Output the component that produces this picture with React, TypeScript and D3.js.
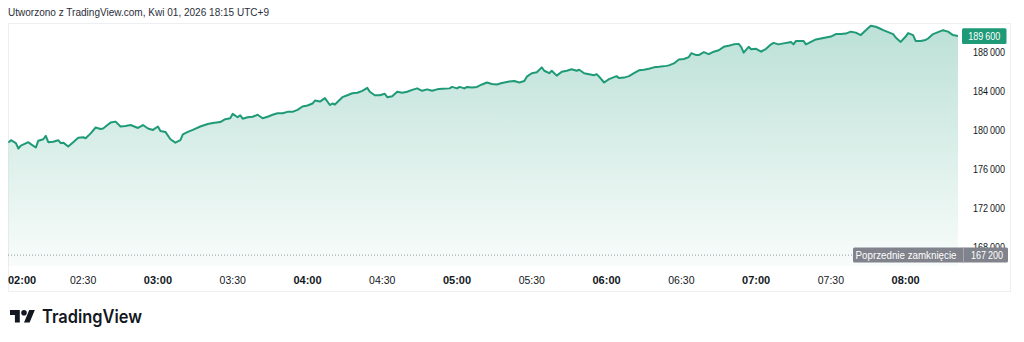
import React from "react";
import * as d3 from "d3";

const times: string[] = [
  "02:00","02:01","02:03","02:04","02:05","02:08","02:09","02:11","02:12","02:14",
  "02:15","02:16","02:18","02:20","02:21","02:22","02:24","02:26","02:28","02:30",
  "02:31","02:33","02:35","02:37","02:38","02:40","02:41","02:43","02:45","02:47",
  "02:49","02:52","02:54","02:56","02:58","03:00","03:01","03:03","03:05","03:07",
  "03:09","03:10","03:12","03:14","03:17","03:20","03:22","03:25","03:27","03:29",
  "03:30","03:32","03:33","03:34","03:36","03:38","03:40","03:42","03:44","03:46",
  "03:48","03:50","03:52","03:54","03:56","03:58","04:00","04:02","04:03","04:05",
  "04:07","04:09","04:10","04:11","04:14","04:16","04:18","04:20","04:22","04:24",
  "04:25","04:27","04:29","04:31","04:32","04:34","04:36","04:38","04:40","04:42",
  "04:44","04:46","04:48","04:50","04:52","04:54","04:57","04:58","05:00","05:01",
  "05:03","05:04","05:06","05:08","05:10","05:12","05:14","05:16","05:18","05:21",
  "05:23","05:25","05:27","05:28","05:30","05:32","05:34","05:35","05:37","05:38",
  "05:40","05:42","05:44","05:46","05:48","05:49","05:51","05:53","05:55","05:56",
  "05:57","05:59","06:01","06:03","06:04","06:05","06:07","06:09","06:11","06:13",
  "06:15","06:17","06:19","06:21","06:24","06:25","06:27","06:29","06:31","06:33",
  "06:34","06:36","06:37","06:39","06:41","06:43","06:45","06:47","06:49","06:51",
  "06:53","06:54","06:55","06:57","06:58","07:00","07:02","07:04","07:06","07:07",
  "07:09","07:11","07:13","07:14","07:15","07:16","07:19","07:20","07:22","07:24",
  "07:26","07:28","07:30","07:32","07:34","07:36","07:38","07:40","07:42","07:44",
  "07:46","07:48","07:49","07:51","07:53","07:55","07:56","07:58","08:00","08:01",
  "08:03","08:04","08:06","08:08","08:09","08:11","08:13","08:15","08:17","08:19",
  "08:21",
];

const prices: number[] = [
  178700,178950,178650,178100,178400,178750,178550,178200,178900,179050,
  179400,178750,178800,178950,178650,178700,178300,178750,179200,179250,
  179150,179650,180250,180100,180150,180550,180750,180850,180350,180400,
  180500,180200,180500,180150,180000,180350,179900,179800,179050,178700,
  178950,179550,179800,180000,180350,180600,180700,180800,181100,181200,
  181650,181300,181500,181150,181300,181350,181550,181200,181350,181550,
  181700,181700,181850,181850,182050,182400,182500,182700,183000,182900,
  183250,182550,182700,182600,183350,183550,183750,183800,184000,184300,
  183900,183550,183550,183700,183350,183450,183900,183800,183900,184100,
  184250,184000,184150,184000,184150,184200,184250,184400,184250,184400,
  184250,184400,184350,184400,184650,184850,184700,184650,184800,184950,
  185000,184850,185000,185450,185800,185900,186400,186050,185800,186050,
  185550,185950,186050,186200,186050,186150,185800,185700,185600,185700,
  185450,184850,185200,185400,185500,185300,185350,185500,185800,186100,
  186150,186250,186400,186450,186550,186600,186800,187200,187250,187450,
  187850,187650,187650,187950,187750,188000,188150,188500,188600,188750,
  188800,188500,187900,188500,188250,188300,188000,188300,188750,188900,
  188750,188850,188950,189000,188750,189100,189100,188750,189000,189250,
  189350,189450,189550,189800,189800,189850,190050,189950,189700,190200,
  190650,190550,190450,190200,190000,189800,189450,189000,189550,189900,
  189700,189100,189100,189200,189350,189800,190000,190200,190050,189700,
  189600,
];

const timeTicks: string[] = ["02:00","02:30","03:00","03:30","04:00","04:30","05:00","05:30","06:00","06:30","07:00","07:30","08:00"];
const priceTicks: number[] = [168000, 172000, 176000, 180000, 184000, 188000];
const lastPrice = 189600;
const prevClose = 167200;
const prevCloseLabel = "Poprzednie zamknięcie";
const title = "Utworzono z TradingView.com, Kwi 01, 2026 18:15 UTC+9";
const brand = "TradingView";

const GREEN = "#1e9a76";
const toMin = (s: string) => {
  const [h, m] = s.split(":").map(Number);
  return (h - 2) * 60 + m;
};

const locale = d3.formatLocale({ decimal: ",", thousands: "\u2009", grouping: [3], currency: ["", ""] });
const fmt = locale.format(",");

export default function App() {
  const W = 1024, H = 342;
  const plotL = 8, plotR = 958, plotT = 23, plotB = 266;
  const x = d3.scaleLinear().domain([0, 381]).range([8.4, 958]);
  const y = d3.scaleLinear().domain([168000, 188000]).range([247.3, 51.7]);

  const data = times.map((t, i) => ({ t: toMin(t), v: prices[i] }));
  const line = d3.line<{ t: number; v: number }>().x(d => x(d.t)).y(d => y(d.v));
  const area = d3.area<{ t: number; v: number }>().x(d => x(d.t)).y0(plotB).y1(d => y(d.v));

  const axisX = 989;
  const font = "'Liberation Sans', Arial, sans-serif";

  return (
    <svg width={W} height={H} style={{ position: "absolute", left: 0, top: 0, background: "#fff" }} fontFamily={font}>
      <defs>
        <linearGradient id="fillg" gradientUnits="userSpaceOnUse" x1="0" y1="25" x2="0" y2={plotB}>
          <stop offset="0" stopColor={GREEN} stopOpacity={0.3} />
          <stop offset="1" stopColor={GREEN} stopOpacity={0.03} />
        </linearGradient>
        <clipPath id="plotclip">
          <rect x={plotL} y={plotT} width={plotR - plotL} height={plotB - plotT} />
        </clipPath>
      </defs>
      <rect x={0} y={0} width={W} height={H} fill="#fff" />
      <text x={8} y={16} fontSize={11} fill="#2a2e39" textLength={261} lengthAdjust="spacingAndGlyphs">{title}</text>

      <rect x={8.5} y={23.5} width={1002} height={268} fill="none" stroke="#eceef2" strokeWidth={1} />

      <g clipPath="url(#plotclip)">
        <path d={area(data) || ""} fill="url(#fillg)" />
        <path d={line(data) || ""} fill="none" stroke={GREEN} strokeWidth={2} strokeLinejoin="round" />
      </g>

      {/* previous close dotted line */}
      <line x1={plotL} x2={853} y1={y(prevClose)} y2={y(prevClose)} stroke="#9598a1" strokeWidth={1} strokeDasharray="1,2" />

      {/* price axis */}
      {priceTicks.map(v => (
        <text key={v} x={axisX} y={y(v)} dy="0.35em" textAnchor="middle" fontSize={11} fill="#131722" textLength={32} lengthAdjust="spacingAndGlyphs">{fmt(v)}</text>
      ))}

      {/* last price badge */}
      <rect x={962} y={28.3} width={44.5} height={15.7} rx={1.5} fill={GREEN} />
      <text x={984.3} y={y(lastPrice)} dy="0.35em" textAnchor="middle" fontSize={11} fill="#fff" textLength={32} lengthAdjust="spacingAndGlyphs">{fmt(lastPrice)}</text>

      {/* previous close badge */}
      <rect x={853} y={y(prevClose) - 7.5} width={155} height={15} rx={1.5} fill="#80838b" />
      <line x1={963.5} x2={963.5} y1={y(prevClose) - 7.5} y2={y(prevClose) + 7.5} stroke="#a3a6ad" strokeWidth={1} />
      <text x={855.5} y={y(prevClose)} dy="0.35em" fontSize={11} fill="#fff" textLength={101} lengthAdjust="spacingAndGlyphs">{prevCloseLabel}</text>
      <text x={987} y={y(prevClose)} dy="0.35em" textAnchor="middle" fontSize={11} fill="#fff" textLength={32} lengthAdjust="spacingAndGlyphs">{fmt(prevClose)}</text>

      {/* time axis */}
      {timeTicks.map(t => {
        const m = toMin(t);
        const isHour = m % 60 === 0;
        const cx = x(m);
        const w = 27;
        const left = cx - w / 2 < 8;
        return (
          <text key={t} x={left ? 8 : cx} y={280} dy="0.35em" textAnchor={left ? "start" : "middle"} fontSize={isHour ? 11 : 10.5}
            fontWeight={isHour ? 700 : 400} fill="#131722">{t}</text>
        );
      })}

      {/* logo */}
      <g transform="translate(10,307.2) scale(0.7)" fill="#131722">
        <path d="M14 22H7V11H0V4h14v18zM28 22h-8l7.5-18h8L28 22z" />
        <circle cx={20} cy={8} r={4} />
      </g>
      <text x={42} y={322.5} fontFamily="Inter, 'Liberation Sans', sans-serif" fontWeight={600} fontSize={18} fill="#131722" textLength={100} lengthAdjust="spacingAndGlyphs">{brand}</text>
    </svg>
  );
}
